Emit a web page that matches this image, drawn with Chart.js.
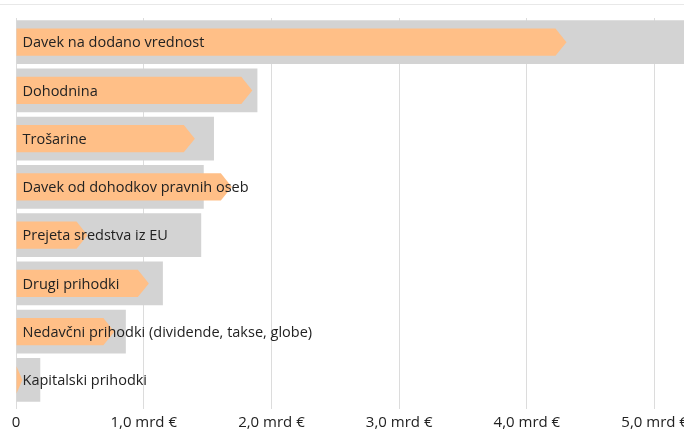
<!DOCTYPE html>
<html>
<head>
<meta charset="utf-8">
<script src="https://cdn.jsdelivr.net/npm/chart.js@4"></script>
<style>
  html, body { margin: 0; padding: 0; background: #fff; }
  #wrap { position: relative; width: 684px; height: 431px; }
  #topline { position: absolute; left: 0; right: 0; top: 4px; border-top: 1px solid #e8e8e8; }
</style>
</head>
<body>
<div id="wrap">
  <div id="topline"></div>
  <canvas id="prihodki" width="684" height="431"></canvas>
</div>
<script>
// prihodki proracuna, mrd €
let categories = ['Davek na dodano vrednost', 'Dohodnina', 'Trošarine',
  'Davek od dohodkov pravnih oseb', 'Prejeta sredstva iz EU', 'Drugi prihodki',
  'Nedavčni prihodki (dividende, takse, globe)', 'Kapitalski prihodki'];
let plan = [5.5, 1.89, 1.55, 1.47, 1.45, 1.15, 0.86, 0.19];
let realizacija = [4.31, 1.85, 1.40, 1.69, 0.56, 1.04, 0.77, 0.05];
let tickValues = [0, 1, 2, 3, 4, 5];

const FONT = '"Open Sans", "DejaVu Sans", sans-serif';

// orange bars are drawn as arrows on top of the bar geometry
let arrowPlugin = {
  id: 'arrows',
  afterDatasetsDraw(chart) {
    let c = chart.ctx;
    let meta = chart.getDatasetMeta(1);
    c.save();
    c.fillStyle = '#ffbf87';
    meta.data.forEach(el => {
      let top = el.y - el.height / 2, bot = el.y + el.height / 2;
      let neck = Math.max(el.base, el.x - 11);
      c.beginPath();
      c.moveTo(el.base, top);
      c.lineTo(neck, top);
      c.lineTo(el.x, el.y);
      c.lineTo(neck, bot);
      c.lineTo(el.base, bot);
      c.closePath();
      c.fill();
    });
    c.restore();
  },
  afterDraw(chart) {
    let c = chart.ctx;
    let meta = chart.getDatasetMeta(0);
    c.save();
    c.fillStyle = '#222';
    c.font = '14.5px ' + FONT;
    c.textBaseline = 'middle';
    meta.data.forEach((el, i) => {
      c.fillText(categories[i], chart.chartArea.left + 6.5, el.y + 1);
    });
    c.restore();
  }
};

let ctx = document.getElementById('prihodki').getContext('2d');

new Chart(ctx, {
  type: 'bar',
  data: {
    labels: categories,
    datasets: [
      { label: 'Plan', data: plan, backgroundColor: '#d3d3d3',
        barPercentage: 0.91, categoryPercentage: 1, grouped: false, order: 2 },
      { label: 'Realizacija', data: realizacija, backgroundColor: 'rgba(0,0,0,0)',
        barPercentage: 0.56, categoryPercentage: 1, grouped: false, order: 1 }
    ]
  },
  options: {
    indexAxis: 'y',
    responsive: false,
    animation: false,
    events: [],
    layout: { padding: { left: 16, top: 18, right: 0, bottom: -5 } },
    plugins: { legend: { display: false }, tooltip: { enabled: false } },
    scales: {
      y: { display: false },
      x: {
        min: 0, max: 5.23,
        border: { display: false },
        grid: { color: '#dcdcdc', drawTicks: true, tickLength: 5 },
        ticks: {
          includeBounds: false,
          stepSize: 1,
          padding: 6,
          color: '#222',
          font: { size: 15, family: FONT, lineHeight: 1 },
          callback: v => v === 0 ? '0' : v.toFixed(1).replace('.', ',') + ' mrd €'
        },
        afterBuildTicks: axis => { axis.ticks = tickValues.map(v => ({ value: v })); },
        afterFit: axis => { axis.paddingLeft = 0; axis.paddingRight = 0; }
      }
    }
  },
  plugins: [arrowPlugin]
});
</script>
</body>
</html>
